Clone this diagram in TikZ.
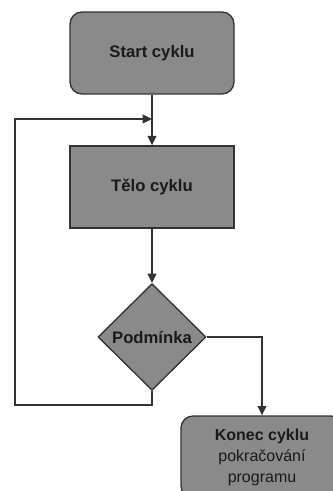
\documentclass[tikz,border=0pt]{standalone}
\usepackage{fontspec}
\setmainfont{Liberation Sans}
\usetikzlibrary{shapes.geometric,arrows.meta}
\definecolor{boxfill}{HTML}{8A8A8A}
\definecolor{edge}{HTML}{333333}
\definecolor{ink}{HTML}{1A1A1A}
\tikzset{
  block/.style={draw=edge, fill=boxfill, line width=1pt, text=ink,
    minimum width=123pt, minimum height=61.5pt, inner sep=0pt,
    font=\fontsize{12.5}{15}\selectfont\bfseries},
  startbox/.style={block, rounded corners=9pt},
  decision/.style={draw=edge, fill=boxfill, line width=1pt, text=ink,
    shape=diamond, inner sep=0pt, minimum width=81pt, minimum height=80pt,
    font=\fontsize{12.5}{15}\selectfont\bfseries},
  endbox/.style={draw=edge, fill=boxfill, line width=1pt, text=ink,
    rounded corners=9pt, minimum width=121.5pt, minimum height=61.5pt,
    inner sep=0pt, align=center, font=\fontsize{12}{15.8}\selectfont},
  flow/.style={draw=edge, line width=1.1pt,
    -{Triangle[length=7pt,width=6.5pt]}},
}
\begin{document}
\begin{tikzpicture}[x=0.75pt, y=-0.75pt]
  \useasboundingbox[fill=white] (0,0) rectangle (332,491);

  \node[startbox] (start) at (152,53) {Start cyklu};
  \node[block]    (body)  at (152,187) {Tělo cyklu};
  \node[decision] (cond)  at (152,337) {Podmínka};
  \node[endbox]   (done)  at (262,457) {{\bfseries Konec cyklu}\\pokračování\\programu};

  \coordinate (loopB) at (15,405);
  \coordinate (loopT) at (15,119);
  \coordinate (join)  at (152,119);

  \draw[flow] (start.south) -- (body.north);
  \draw[flow] (body.south) -- (cond.north);
  \draw[flow] (cond.south) |- (loopB) -- (loopT) -- (join);
  \draw[flow] (cond.east) -| (done.north);
\end{tikzpicture}
\end{document}
